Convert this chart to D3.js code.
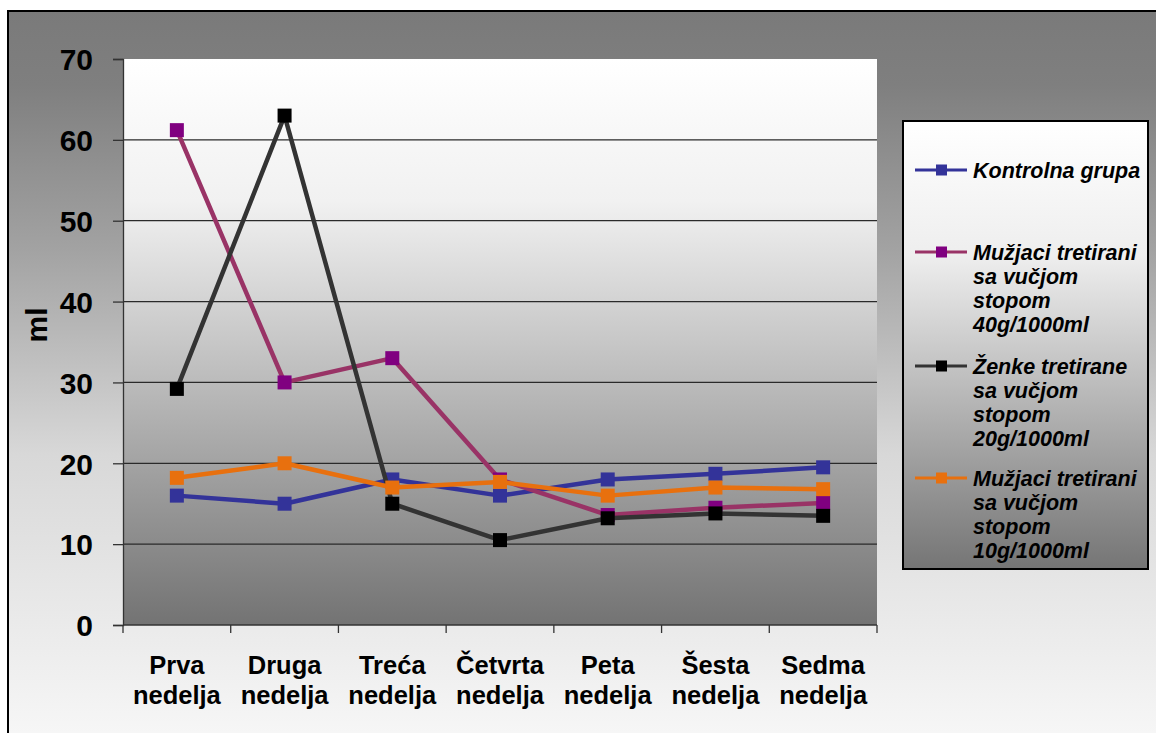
<!DOCTYPE html>
<html>
<head>
<meta charset="utf-8">
<script src="https://cdn.jsdelivr.net/npm/d3@7"></script>
<style>
  html, body { margin: 0; padding: 0; background: #ffffff; }
  svg { display: block; }
</style>
</head>
<body>
<svg id="chart" width="1156" height="733"></svg>
<script>
// Weekly volumes (ml) per group
const categories = [
  ["Prva", "nedelja"], ["Druga", "nedelja"], ["Treća", "nedelja"], ["Četvrta", "nedelja"],
  ["Peta", "nedelja"], ["Šesta", "nedelja"], ["Sedma", "nedelja"]
];
const kontrolna = [16, 15, 18, 16, 18, 18.7, 19.5];
const muzjaci40 = [61.2, 30, 33, 18, 13.6, 14.5, 15.1];
const zenke20   = [29.2, 63, 15, 10.5, 13.2, 13.8, 13.5];
const muzjaci10 = [18.2, 20, 17, 17.7, 16, 17, 16.8];
const yTicks = [0, 10, 20, 30, 40, 50, 60, 70];

const seriesNames = [
  ["Kontrolna grupa"],
  ["Mužjaci tretirani", "sa vučjom", "stopom", "40g/1000ml"],
  ["Ženke tretirane", "sa vučjom", "stopom", "20g/1000ml"],
  ["Mužjaci tretirani", "sa vučjom", "stopom", "10g/1000ml"]
];

const series = [
  { values: kontrolna, line: "#333399", marker: "#333399", names: seriesNames[0], legendY: 170 },
  { values: muzjaci40, line: "#993366", marker: "#800080", names: seriesNames[1], legendY: 252 },
  { values: zenke20,   line: "#333333", marker: "#000000", names: seriesNames[2], legendY: 366 },
  { values: muzjaci10, line: "#E8700E", marker: "#E8700E", names: seriesNames[3], legendY: 478 }
];

const svg = d3.select("#chart");
const defs = svg.append("defs");

function vGrad(id, stops) {
  const g = defs.append("linearGradient").attr("id", id)
    .attr("x1", 0).attr("y1", 0).attr("x2", 0).attr("y2", 1);
  stops.forEach(([o, c]) => g.append("stop").attr("offset", o).attr("stop-color", c));
}
vGrad("outerGrad", [[0, "#7a7a7a"], [0.1, "#7f7f7f"], [0.32, "#a2a2a2"], [0.6, "#d8d8d8"], [1, "#f8f8f8"]]);
vGrad("plotGrad", [[0, "#ffffff"], [0.25, "#f1f1f1"], [1, "#737373"]]);
vGrad("legendGrad", [[0, "#ffffff"], [0.3, "#eeeeee"], [1, "#757575"]]);

// Chart area background and frame
svg.append("rect")
  .attr("x", 8).attr("y", 11).attr("width", 1160).attr("height", 740)
  .attr("fill", "url(#outerGrad)")
  .attr("stroke", "#000").attr("stroke-width", 2);

const plot = { left: 123, right: 877, top: 59, bottom: 625 };

const x = d3.scaleBand()
  .domain(categories.map((d, i) => i))
  .range([plot.left, plot.right])
  .padding(0);
const cx = i => x(i) + x.bandwidth() / 2;

const y = d3.scaleLinear().domain([0, 70]).range([plot.bottom, plot.top]);

// Plot area
svg.append("rect")
  .attr("x", plot.left).attr("y", plot.top)
  .attr("width", plot.right - plot.left).attr("height", plot.bottom - plot.top)
  .attr("fill", "url(#plotGrad)");

// Horizontal gridlines
svg.append("g")
  .selectAll("line")
  .data(yTicks.filter(t => t > 0 && t < 70))
  .join("line")
  .attr("x1", plot.left).attr("x2", plot.right)
  .attr("y1", d => y(d)).attr("y2", d => y(d))
  .attr("stroke", "#2a2a2a").attr("stroke-width", 1.3);

// Y axis
const yAxis = svg.append("g")
  .attr("transform", `translate(${plot.left},0)`)
  .call(d3.axisLeft(y).tickValues(yTicks).tickSize(10).tickPadding(20));
yAxis.select(".domain").attr("stroke", "#333").attr("stroke-width", 1.3);
yAxis.selectAll(".tick line").attr("stroke", "#333").attr("stroke-width", 1.3);
yAxis.selectAll(".tick text")
  .attr("fill", "#000")
  .style("font-family", "Liberation Sans, Arial, sans-serif")
  .style("font-weight", "bold")
  .style("font-size", "30px")
  .attr("dy", "0.36em");

// X axis: ticks at category boundaries
const xAxisG = svg.append("g");
xAxisG.append("line")
  .attr("x1", plot.left).attr("x2", plot.right)
  .attr("y1", plot.bottom).attr("y2", plot.bottom)
  .attr("stroke", "#333").attr("stroke-width", 1.3);
xAxisG.selectAll("line.tk")
  .data(d3.range(categories.length + 1))
  .join("line")
  .attr("class", "tk")
  .attr("x1", i => i < categories.length ? x(i) : plot.right)
  .attr("x2", i => i < categories.length ? x(i) : plot.right)
  .attr("y1", plot.bottom).attr("y2", plot.bottom + 8)
  .attr("stroke", "#333").attr("stroke-width", 1.3);

const xLabels = xAxisG.selectAll("text.cat")
  .data(categories)
  .join("text")
  .attr("class", "cat")
  .attr("text-anchor", "middle")
  .attr("fill", "#000")
  .style("font-family", "Liberation Sans, Arial, sans-serif")
  .style("font-weight", "bold")
  .style("font-size", "25.5px");
xLabels.each(function (d, i) {
  const t = d3.select(this);
  d.forEach((line, k) => {
    t.append("tspan").attr("x", cx(i)).attr("y", 674 + k * 30).text(line);
  });
});

// Y axis title
svg.append("text")
  .attr("transform", "translate(47,325) rotate(-90)")
  .attr("text-anchor", "middle")
  .attr("fill", "#000")
  .style("font-family", "Liberation Sans, Arial, sans-serif")
  .style("font-weight", "bold")
  .style("font-size", "30px")
  .text("ml");

// Series lines and markers
const lineGen = d3.line().x((d, i) => cx(i)).y(d => y(d));
const markerSize = 14;

series.forEach(s => {
  const g = svg.append("g");
  g.append("path")
    .attr("d", lineGen(s.values))
    .attr("fill", "none")
    .attr("stroke", s.line)
    .attr("stroke-width", 4.5)
    .attr("stroke-linejoin", "round");
  g.selectAll("rect")
    .data(s.values)
    .join("rect")
    .attr("x", (d, i) => cx(i) - markerSize / 2)
    .attr("y", d => y(d) - markerSize / 2)
    .attr("width", markerSize).attr("height", markerSize)
    .attr("fill", s.marker);
});

// Legend
const legend = svg.append("g");
legend.append("rect")
  .attr("x", 903).attr("y", 121).attr("width", 245).attr("height", 448)
  .attr("fill", "url(#legendGrad)")
  .attr("stroke", "#000").attr("stroke-width", 2);

series.forEach(s => {
  const ly = s.legendY;
  legend.append("line")
    .attr("x1", 915).attr("x2", 967)
    .attr("y1", ly).attr("y2", ly)
    .attr("stroke", s.line).attr("stroke-width", 3);
  legend.append("rect")
    .attr("x", 936).attr("y", ly - 5.5).attr("width", 11).attr("height", 11)
    .attr("fill", s.marker);
  const t = legend.append("text")
    .attr("fill", "#000")
    .style("font-family", "Liberation Sans, Arial, sans-serif")
    .style("font-weight", "bold")
    .style("font-style", "italic")
    .style("font-size", "21.5px");
  s.names.forEach((line, k) => {
    t.append("tspan").attr("x", 973).attr("y", ly + 7.5 + k * 24.3).text(line);
  });
});
</script>
</body>
</html>
